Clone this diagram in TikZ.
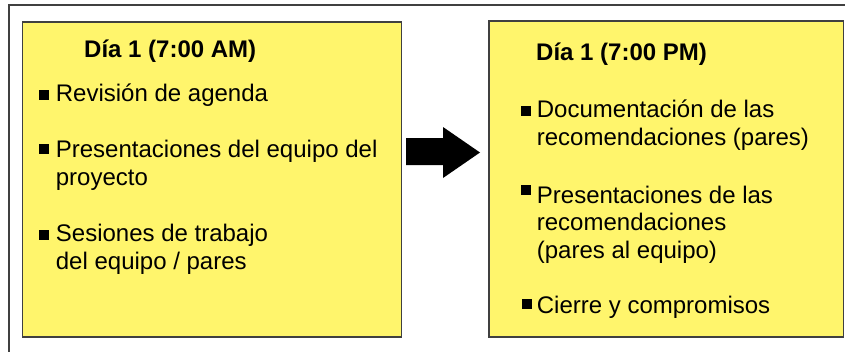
\documentclass[tikz,border=0pt]{standalone}
\usepackage{fontspec}
\setmainfont{Liberation Sans}
\usepackage{tikz}

\definecolor{diayellow}{RGB}{255,245,108}
\definecolor{framegray}{RGB}{64,64,64}

\tikzset{
  dia/.style={rectangle, draw=framegray, fill=diayellow, line width=1.5pt, inner sep=0},
  txt/.style={anchor=base west, inner sep=0, font=\fontsize{24}{27.6}\selectfont},
  ttl/.style={txt, font=\fontsize{24}{27.6}\selectfont\bfseries},
  bul/.style={rectangle, fill=black, minimum size=10pt, inner sep=0, anchor=north west}
}

\begin{document}
\begin{tikzpicture}[x=1pt,y=-1pt]
\clip (0,0) rectangle (845,351);
\fill[white] (0,0) rectangle (845,351);

% outer frame
\draw[framegray, line width=2pt] (9,360) -- (9,5) -- (860,5);

\node (am) at (212,179.5) [dia, minimum width=379pt, minimum height=315pt] {};
\node (pm) at (666.25,179) [dia, minimum width=354.5pt, minimum height=316pt] {};

\node (amtitle) at (84,57.3) [ttl] {Día 1 (7:00 AM)};
\node (pmtitle) at (536,60) [ttl] {Día 1 (7:00 PM)};

\node (ba) at (38.3,89.3) [bul] {};
\node (bb) at (38.3,144) [bul] {};
\node (bc) at (38.3,229.3) [bul] {};

\node (a1) at (55.7,101.7) [txt] {Revisión de agenda};
\node (a2) at (55.7,157.3) [txt] {Presentaciones del equipo del};
\node (a3) at (55.7,185) [txt] {proyecto};
\node (a4) at (55.7,241.7) [txt] {Sesiones de trabajo};
\node (a5) at (55.7,269.5) [txt] {del equipo / pares};

\node (bd) at (520.5,105.7) [bul] {};
\node (be) at (521,185) [bul] {};
\node (bf) at (521.7,299) [bul] {};

\node (p1) at (536.7,117.5) [txt] {Documentación de las};
\node (p2) at (536.7,145.5) [txt] {recomendaciones (pares)};
\node (p3) at (536.7,203) [txt] {Presentaciones de las};
\node (p4) at (536.7,230.5) [txt] {recomendaciones};
\node (p5) at (536.7,258) [txt] {(pares al equipo)};
\node (p6) at (536.7,313.3) [txt] {Cierre y compromisos};

% arrow between the two days
\fill[black] (406,138) -- (443,138) -- (443,127) -- (480,152.5)
  -- (443,178) -- (443,165) -- (406,165) -- cycle;
\end{tikzpicture}
\end{document}
